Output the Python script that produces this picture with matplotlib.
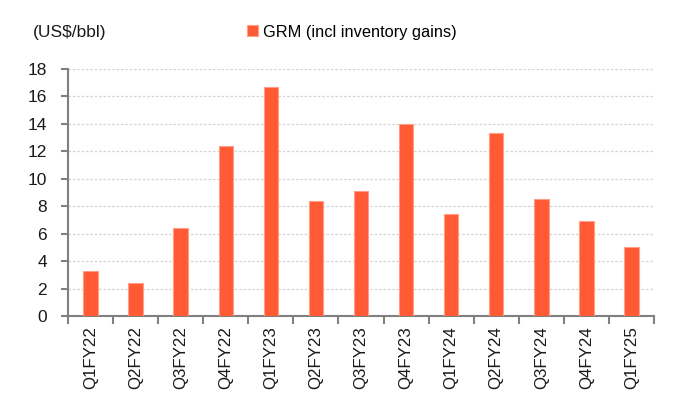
import matplotlib
matplotlib.use("Agg")
import matplotlib.pyplot as plt
import numpy as np

plt.rcParams['font.family'] = ['Liberation Sans', 'DejaVu Sans']

quarters = ["Q1FY22", "Q2FY22", "Q3FY22", "Q4FY22", "Q1FY23", "Q2FY23", "Q3FY23",
            "Q4FY23", "Q1FY24", "Q2FY24", "Q3FY24", "Q4FY24", "Q1FY25"]
grm = [3.3, 2.4, 6.4, 12.4, 16.7, 8.4, 9.1, 14.0, 7.4, 13.3, 8.5, 6.9, 5.0]
y_ticks = [0, 2, 4, 6, 8, 10, 12, 14, 16, 18]

bar_color = "#FF5A33"
spine_color = "#808080"

fig = plt.figure(figsize=(6.77, 3.94), dpi=100)
ax = fig.add_axes([68 / 677, 1 - 316 / 394, (654 - 68) / 677, (316 - 69) / 394])

x = np.arange(len(quarters))
ax.bar(x, grm, width=0.32, color=bar_color, edgecolor="#FF9E88", linewidth=0.8,
       label="GRM (incl inventory gains)", zorder=3)

ax.set_xlim(-0.5, len(quarters) - 0.5)
ax.set_ylim(0, 18)
ax.set_yticks(y_ticks)
ax.set_yticklabels([str(v) for v in y_ticks])

# gridlines at every value tick except zero
for v in y_ticks[1:]:
    ax.axhline(v, color="#D4D4D4", linewidth=0.9, linestyle=(0, (2, 1.5)), zorder=1)

ax.set_xticks(x)
ax.set_xticklabels(quarters, rotation=90)
ax.set_xticks(np.arange(len(quarters) + 1) - 0.5, minor=True)
ax.tick_params(axis="x", which="major", length=0, pad=7.5, labelsize=12.2, colors="#1a1a1a")
ax.tick_params(axis="x", which="minor", length=5.5, width=1.5, color=spine_color, direction="out")
ax.tick_params(axis="y", which="major", length=5, width=1.5, color=spine_color,
               direction="out", pad=10, labelsize=12.5, labelcolor="#1a1a1a")

for side in ("top", "right"):
    ax.spines[side].set_visible(False)
for side in ("left", "bottom"):
    ax.spines[side].set_color(spine_color)
    ax.spines[side].set_linewidth(1.5)

fig.text(33 / 677, 1 - 32 / 394, "(US$/bbl)", fontsize=12.5, va="center", ha="left",
         color="#1a1a1a")

ax.legend(loc="center left", bbox_to_anchor=(247 / 677, 1 - 32 / 394),
          bbox_transform=fig.transFigure, frameon=False, fontsize=11.8,
          handlelength=0.65, handleheight=0.65, handletextpad=0.3, borderpad=0,
          borderaxespad=0)

fig.savefig("out.png", dpi=100, facecolor="white")
